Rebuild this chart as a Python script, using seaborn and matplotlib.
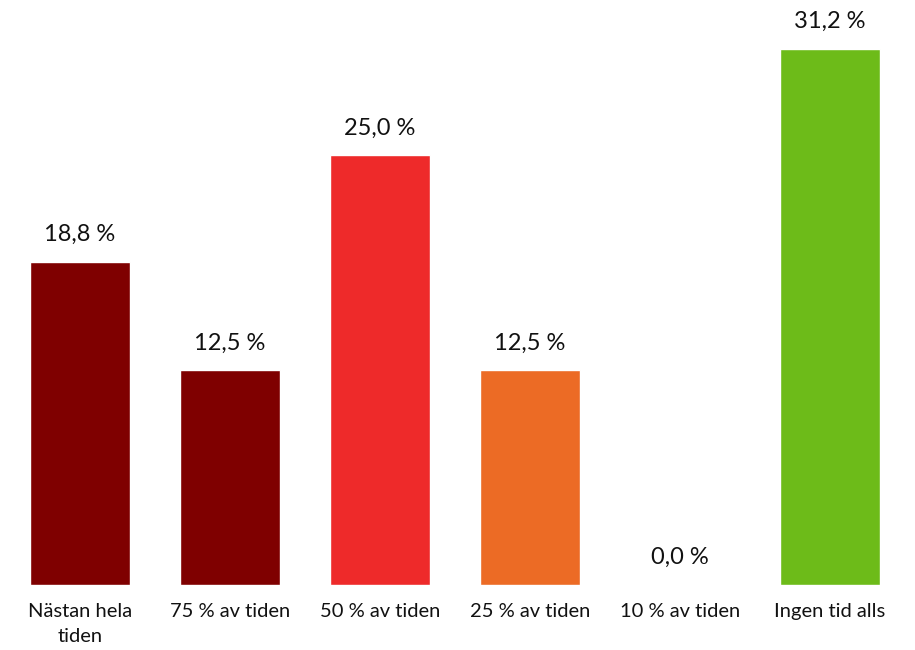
import numpy as np
import pandas as pd
import seaborn as sns
import matplotlib.pyplot as plt

categories = ["Nästan hela\ntiden", "75 % av tiden", "50 % av tiden",
              "25 % av tiden", "10 % av tiden", "Ingen tid alls"]
values = [18.8, 12.5, 25.0, 12.5, 0.0, 31.2]
colors = ["#7F0000", "#7F0000", "#EE2A2A", "#EC6B25", "#EC6B25", "#6DBB19"]

sns.set_style("white")
plt.rcParams['font.family'] = ['Lato', 'DejaVu Sans']

df = pd.DataFrame({"cat": categories, "val": values})

fig = plt.figure(figsize=(9.15, 6.5), dpi=100)
ax = fig.add_axes([5 / 915, 65 / 650, 900 / 915, 585 / 650])
sns.barplot(data=df, x="cat", y="val", hue="cat", palette=colors,
            width=0.667, saturation=1, legend=False, ax=ax)

ax.set_xlim(-0.5, 5.5)
ax.set_ylim(0, 34.05)
for i, v in enumerate(values):
    ax.annotate(f"{v:.1f} %".replace(".", ","), (i, v), xytext=(0, 15),
                textcoords="offset points", ha="center", va="baseline",
                fontsize=17, color="#111111")

ax.set_xlabel("")
ax.set_ylabel("")
ax.set_yticks([])
ax.tick_params(axis="x", length=0, pad=13, labelsize=14.5, labelcolor="#111111")
for lbl in ax.get_xticklabels():
    lbl.set_linespacing(1.55)
for s in ax.spines.values():
    s.set_visible(False)

fig.savefig("out.png", dpi=100)
